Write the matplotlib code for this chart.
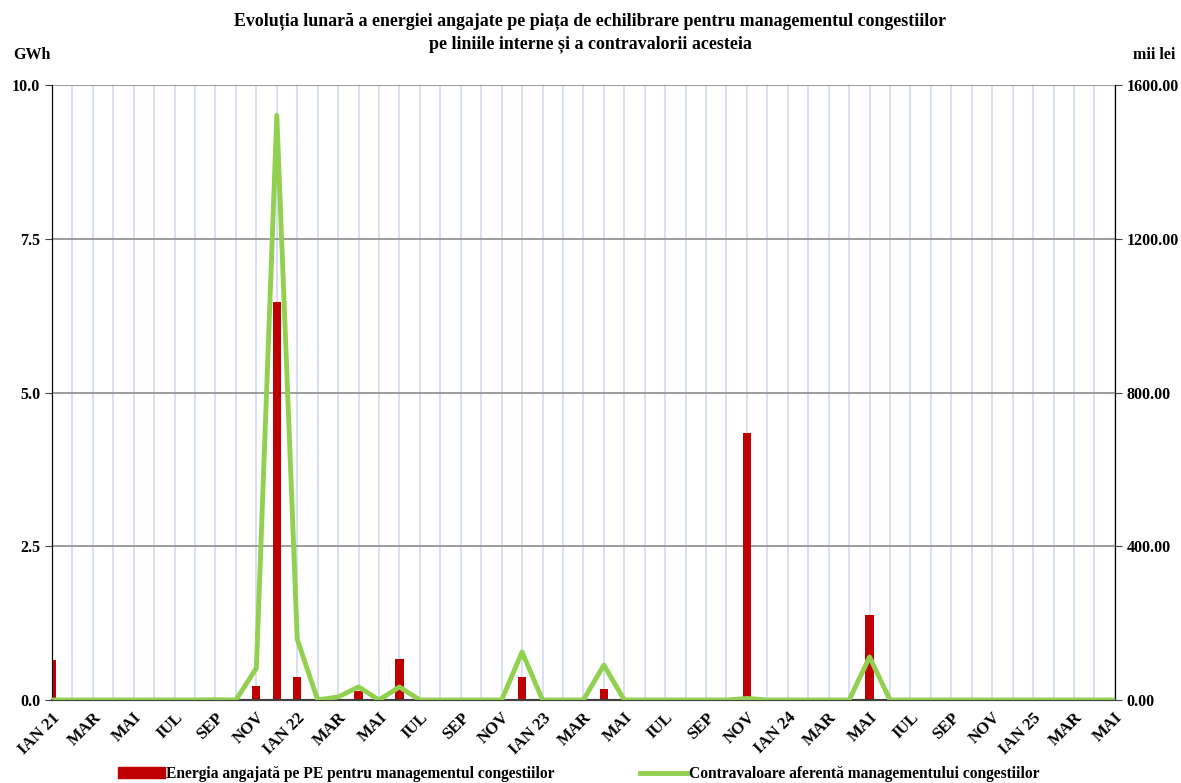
import numpy as np
import matplotlib.pyplot as plt
from matplotlib.lines import Line2D
from matplotlib.patches import Patch

plt.rcParams['font.family'] = ['Liberation Serif', 'DejaVu Serif']
plt.rcParams['font.weight'] = 'bold'

# Monthly series Jan 2021 .. May 2025 (53 months)
month_names = ['IAN', 'FEB', 'MAR', 'APR', 'MAI', 'IUN', 'IUL', 'AUG', 'SEP', 'OCT', 'NOV', 'DEC']
years = ['21', '22', '23', '24', '25']

energy_gwh = [0.65, 0, 0.03, 0, 0, 0, 0, 0, 0, 0, 0.23, 6.47,
              0.38, 0, 0, 0.15, 0, 0.67, 0, 0, 0, 0, 0, 0.37,
              0, 0, 0, 0.18, 0, 0, 0, 0, 0, 0, 4.34, 0,
              0, 0, 0, 0, 1.39, 0, 0, 0, 0, 0, 0, 0,
              0, 0, 0, 0, 0]
value_mii_lei = [0, 0, 0, 0, 0, 0, 0, 0, 1, 0, 83, 1522,
                 158, 0, 8, 34, 0, 34, 0, 0, 0, 0, 0, 125,
                 0, 0, 0, 91, 0, 0, 0, 0, 0, 0, 4, 0,
                 0, 0, 0, 0, 112, 0, 0, 0, 0, 0, 0, 0,
                 0, 0, 0, 0, 0]

n = len(energy_gwh)
labels = []
for i in range(n):
    m = i % 12
    name = month_names[m]
    if m == 0:
        name += ' ' + years[i // 12]
    labels.append(name)

x = np.arange(n)

fig, ax = plt.subplots(figsize=(11.81, 7.83), dpi=100)
fig.subplots_adjust(left=0.044, right=0.944, top=0.891, bottom=0.106)
ax2 = ax.twinx()

ax.set_xlim(0, n - 1)
ax.set_ylim(0, 10)
ax2.set_ylim(0, 1600)

# grid: light blue per month, grey horizontal
for xi in x:
    ax.axvline(xi, color='#cfdcef', lw=1.2, zorder=0)
for yv in [2.5, 5.0, 7.5, 10.0]:
    ax.axhline(yv, color='#8c8c8c', lw=1.2, zorder=0.5)

ax.bar(x, energy_gwh, width=0.4, color='#c00000', zorder=2)
ax2.plot(x, value_mii_lei, color='#92d050', lw=3.5, zorder=3)

ax.set_yticks([0, 2.5, 5.0, 7.5, 10.0])
ax.set_yticklabels(['0.0', '2.5', '5.0', '7.5', '10.0'], fontsize=11.5, fontweight='bold')
ax2.set_yticks([0, 400, 800, 1200, 1600])
ax2.set_yticklabels(['0.00', '400.00', '800.00', '1200.00', '1600.00'], fontsize=11.5, fontweight='bold')

ax.set_xticks(x[::2])
ax.set_xticklabels(labels[::2], rotation=45, ha='right', rotation_mode='anchor',
                   fontsize=12, fontweight='bold')
ax.tick_params(axis='x', length=0, pad=7)
ax.set_xticks(x[::12], minor=True)
ax.tick_params(axis='x', which='minor', length=5, direction='out', color='black')

for a in (ax, ax2):
    a.spines['top'].set_visible(False)
    a.spines['left'].set_color('black')
    a.spines['right'].set_color('black')
    a.spines['bottom'].set_color('#404040')
    a.spines['bottom'].set_linewidth(1.5)
ax.tick_params(axis='y', length=5, color='#404040')
ax2.tick_params(axis='y', length=5, color='#404040')

fig.text(0.011, 0.925, 'GWh', fontsize=11.5, fontweight='bold', ha='left')
fig.text(0.995, 0.925, 'mii lei', fontsize=11.5, fontweight='bold', ha='right')
fig.suptitle('Evoluția lunară a energiei angajate pe piața de echilibrare pentru managementul congestiilor\n'
             'pe liniile interne și a contravalorii acesteia',
             fontsize=12.9, fontweight='bold', y=0.984, linespacing=1.4)

handles = [Patch(color='#c00000'),
           Line2D([0], [0], color='#92d050', lw=3.5)]
fig.legend(handles, ['Energia angajată pe PE pentru managementul congestiilor',
                     'Contravaloare aferentă managementului congestiilor'],
           loc='lower center', bbox_to_anchor=(0.49, -0.017), ncol=2, frameon=False,
           fontsize=11.2, handlelength=3, handletextpad=0.1, columnspacing=5.5)

fig.savefig('out.png', dpi=100)
